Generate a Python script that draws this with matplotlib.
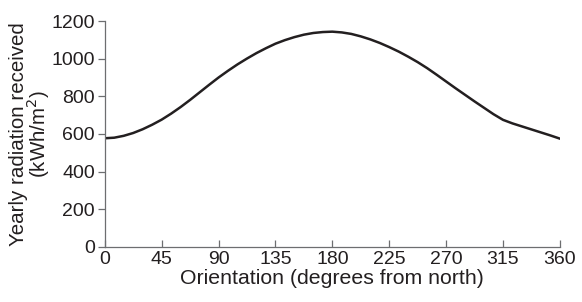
import matplotlib

matplotlib.use("Agg")
import matplotlib.pyplot as plt

# values every 7.5 degrees
orientation = [0, 7.5, 15, 22.5, 30, 37.5, 45, 52.5, 60, 67.5, 75, 82.5, 90,
               97.5, 105, 112.5, 120, 127.5, 135, 142.5, 150, 157.5, 165, 172.5, 180,
               187.5, 195, 202.5, 210, 217.5, 225, 232.5, 240, 247.5, 255, 262.5, 270,
               277.5, 285, 292.5, 300, 307.5, 315, 322.5, 330, 337.5, 345, 352.5, 360]
radiation = [577, 580, 590, 605, 625, 649, 676, 708, 743, 781, 821, 861, 900,
             936, 970, 1001, 1030, 1056, 1080, 1099, 1115, 1128, 1137, 1142, 1144,
             1140, 1132, 1119, 1103, 1084, 1062, 1038, 1011, 982, 950, 915, 879,
             843, 808, 773, 739, 705, 675, 656, 640, 624, 608, 592, 575]
x_ticks = [0, 45, 90, 135, 180, 225, 270, 315, 360]
y_ticks = [0, 200, 400, 600, 800, 1000, 1200]

plt.rcParams["font.family"] = ["Liberation Sans", "DejaVu Sans"]
text_color = "#231f20"
axis_color = "#6d6e70"

fig = plt.figure(figsize=(5.82, 3.02), dpi=100)
ax = fig.add_axes((0.180, 0.183, 0.782, 0.747))

ax.plot(orientation, radiation, color=text_color, linewidth=1.8,
        solid_joinstyle="round")

ax.set_xlim(0, 360)
ax.set_ylim(0, 1200)
ax.set_xticks(x_ticks)
ax.set_yticks(y_ticks)

for side in ("top", "right"):
    ax.spines[side].set_visible(False)
for side in ("left", "bottom"):
    ax.spines[side].set_color(axis_color)
    ax.spines[side].set_linewidth(0.9)

ax.tick_params(axis="x", direction="in", length=5, width=0.9, color=axis_color,
               labelsize=14, labelcolor=text_color, pad=3)
ax.tick_params(axis="y", direction="out", length=5, width=0.9, color=axis_color,
               labelsize=14, labelcolor=text_color, pad=2)

ax.set_xlabel("Orientation (degrees from north)", fontsize=15.3, color=text_color,
              labelpad=1)
ax.set_ylabel("Yearly radiation received\n(kWh/m$^2$)", fontsize=14.8,
              color=text_color, labelpad=0, linespacing=0.82)

fig.savefig("out.png", dpi=100)
